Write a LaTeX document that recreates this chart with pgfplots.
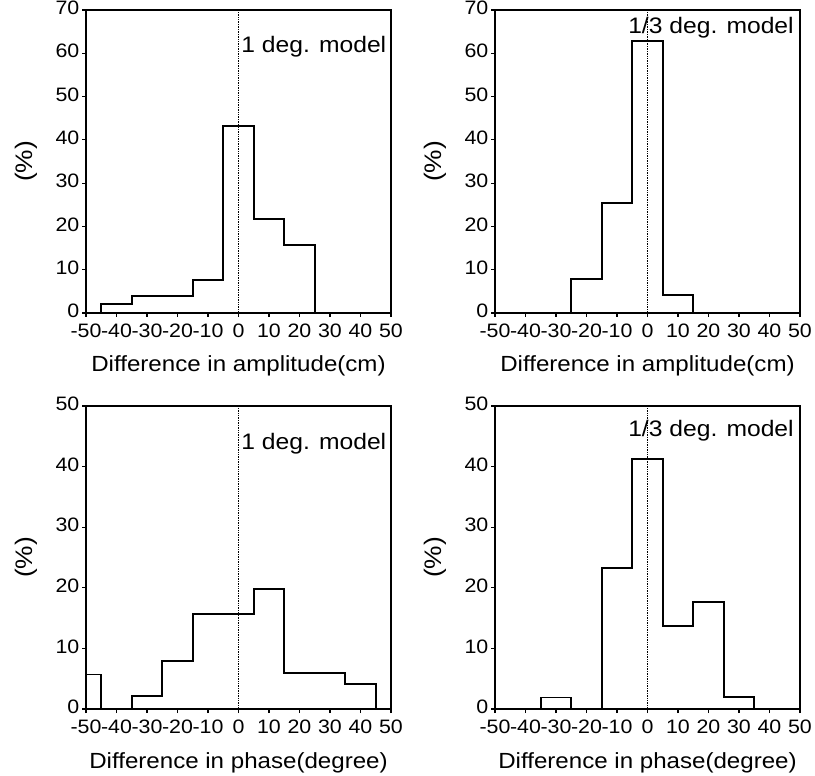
\documentclass[border=0pt]{standalone}
\usepackage{fontspec}
\setmainfont{Liberation Sans}[FakeStretch=1.1]
\usepackage{pgfplots}
\pgfplotsset{compat=1.18}

\pgfplotsset{
  histo/.style={
    scale only axis, width=305bp, height=303bp,
    xmin=-50, xmax=50, ymin=0,
    xtick={-50,-40,...,50},
    xticklabels={-50,-40,-30,-20,-10,0,10,20,30,40,50},
    xtick pos=left, ytick pos=left, tick align=outside,
    major tick length=4bp,
    axis line style={line width=1.4bp},
    every tick/.style={black, line width=1.1bp},
    tick label style={font=\fontsize{19.5}{22}\selectfont},
    xticklabel style={inner sep=1bp, yshift=-6bp},
    yticklabel style={inner sep=1.5bp, xshift=-1bp, yshift=2bp},
    label style={font=\fontsize{22}{26}\selectfont},
    ylabel={(\%)},
    ylabel style={at={(axis description cs:-0.197,0.5)}, anchor=center, font=\fontsize{24}{28}\selectfont},
    xlabel style={at={(axis description cs:0.5,0)}, anchor=base, yshift=-59bp},
  },
  hstep/.style={const plot, mark=none, black, line width=1.9bp},
  zero/.style={densely dotted, black, line width=0.7bp},
}
\tikzset{lbl/.style={anchor=east, font=\fontsize{22.5}{26}\selectfont, inner sep=0pt}}

\begin{document}
\begin{tikzpicture}
\useasboundingbox (0,0) rectangle (815bp,776bp);

% top left: amplitude, 1 deg
\begin{axis}[histo, at={(86bp,463bp)}, ymax=70,
  ytick={0,10,...,70}, yticklabels={0,10,20,30,40,50,60,70},
  xlabel={Difference in amplitude(cm)}]
\addplot[hstep] coordinates {(-50,0) (-45,2) (-35,4) (-15,7.7) (-5,43.2) (5,21.8) (15,15.8) (25,0) (50,0)};
\addplot[zero] coordinates {(0,0) (0,70)};
\node[lbl] at (rel axis cs:0.985,0.88) {1 deg. model};
\end{axis}

% top right: amplitude, 1/3 deg
\begin{axis}[histo, at={(495bp,463bp)}, ymax=70,
  ytick={0,10,...,70}, yticklabels={0,10,20,30,40,50,60,70},
  xlabel={Difference in amplitude(cm)}]
\addplot[hstep] coordinates {(-50,0) (-25,7.8) (-15,25.4) (-5,62.8) (5,4.2) (15,0) (50,0)};
\addplot[zero] coordinates {(0,0) (0,70)};
\node[lbl] at (rel axis cs:0.98,0.94) {1/3 deg. model};
\end{axis}

% bottom left: phase, 1 deg
\begin{axis}[histo, at={(86bp,67bp)}, ymax=50,
  ytick={0,10,...,50}, yticklabels={0,10,20,30,40,50},
  xlabel={Difference in phase(degree)}]
\addplot[hstep] coordinates {(-50,5.7) (-45,0) (-35,2.1) (-25,7.9) (-15,15.7) (5,19.8) (15,6.0) (35,4.1) (45,0) (50,0)};
\addplot[zero] coordinates {(0,0) (0,50)};
\node[lbl] at (rel axis cs:0.985,0.875) {1 deg. model};
\end{axis}

% bottom right: phase, 1/3 deg
\begin{axis}[histo, at={(495bp,67bp)}, ymax=50,
  ytick={0,10,...,50}, yticklabels={0,10,20,30,40,50},
  xlabel={Difference in phase(degree)}]
\addplot[hstep] coordinates {(-50,0) (-35,1.9) (-25,0) (-15,23.3) (-5,41.3) (5,13.7) (15,17.7) (25,2.0) (35,0) (50,0)};
\addplot[zero] coordinates {(0,0) (0,50)};
\node[lbl] at (rel axis cs:0.98,0.92) {1/3 deg. model};
\end{axis}
\end{tikzpicture}
\end{document}
